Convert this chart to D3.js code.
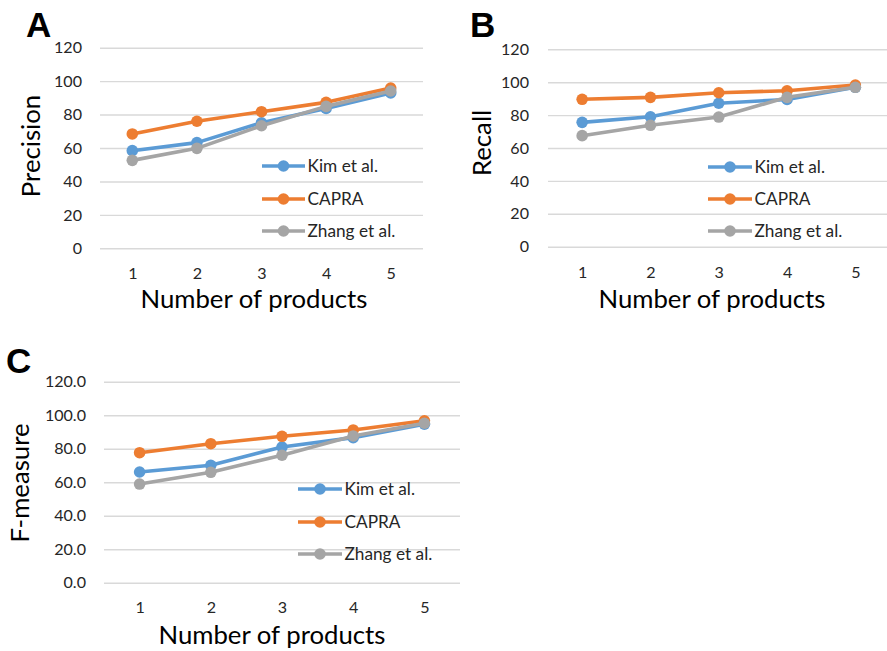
<!DOCTYPE html>
<html><head><meta charset="utf-8">
<script src="https://cdn.jsdelivr.net/npm/d3@7/dist/d3.min.js"></script>
<style>
body{margin:0;background:#fff;}
text{font-family:Lato,"Open Sans",sans-serif;}
</style></head>
<body><svg id="c" width="887" height="651"></svg>
<script>
const categories = [1, 2, 3, 4, 5];
const seriesNames = ["Kim et al.", "CAPRA", "Zhang et al."];
const seriesColors = ["#5B9BD5", "#ED7D31", "#A5A5A5"];
const yTicks = [0, 20, 40, 60, 80, 100, 120];

const precisionKim   = [58.4, 63.2, 75.1, 83.7, 92.9];
const precisionCapra = [68.4, 76.0, 81.7, 87.3, 95.9];
const precisionZhang = [52.6, 59.8, 73.3, 84.9, 94.1];

const recallKim   = [75.6, 79.0, 87.2, 89.5, 96.9];
const recallCapra = [89.6, 90.8, 93.6, 94.8, 98.3];
const recallZhang = [67.5, 73.8, 78.8, 90.8, 96.9];

const fKim   = [66.1, 70.1, 81.0, 86.6, 94.6];
const fCapra = [77.6, 83.0, 87.4, 91.2, 96.7];
const fZhang = [58.9, 65.9, 76.1, 87.6, 95.2];

const svg = d3.select("#c");

// pick font sizes so text widths match the reference
function fit(str, target) {
  const t = svg.append("text").attr("font-size", 20).text(str);
  const w = t.node().getComputedTextLength();
  t.remove();
  return 20 * target / w;
}
const tickFS = fit("120", 28);
const legFS = fit("Kim et al.", 70.5);
const titleFS = fit("Number of products", 227);

function panel(cfg) {
  const g = svg.append("g");
  const x = d3.scalePoint().domain(categories).range([cfg.x0, cfg.x1]).padding(0.5);
  const y = d3.scaleLinear().domain([0, 120]).range([cfg.yb, cfg.yt]);

  const ya = g.append("g").attr("transform", `translate(${cfg.x0},0)`)
    .call(d3.axisLeft(y).tickValues(yTicks).tickFormat(cfg.fmt)
      .tickSizeInner(-(cfg.x1 - cfg.x0)).tickSizeOuter(0).tickPadding(cfg.ypad));
  ya.select(".domain").remove();
  ya.selectAll(".tick line").attr("stroke", "#D9D9D9").attr("stroke-width", 1.4);
  ya.selectAll(".tick text").attr("fill", "#262626").attr("font-size", tickFS).attr("font-family", "Lato");

  const xa = g.append("g").attr("transform", `translate(0,${cfg.xtick})`)
    .call(d3.axisBottom(x).tickSize(0).tickPadding(0));
  xa.select(".domain").remove();
  xa.selectAll(".tick text").attr("fill", "#262626").attr("font-size", tickFS)
    .attr("font-family", "Lato").attr("dy", 0).attr("y", 0);

  g.append("text").attr("x", cfg.xtx).attr("y", cfg.xty).attr("text-anchor", "middle")
    .attr("font-size", titleFS).attr("fill", "#000").text("Number of products");
  g.append("text").attr("transform", `translate(${cfg.ytx},${cfg.yty}) rotate(-90)`)
    .attr("text-anchor", "middle").attr("dy", "0.35em")
    .attr("font-size", titleFS).attr("fill", "#000").text(cfg.ytitle);
  g.append("text").attr("x", cfg.lx).attr("y", cfg.ly)
    .style("font-family", "'Liberation Sans',Arial,sans-serif")
    .attr("font-weight", "bold").attr("font-size", 35).attr("fill", "#000").text(cfg.letter);

  const line = d3.line().x((d, i) => x(categories[i])).y(d => y(d));
  cfg.series.forEach((s, k) => {
    g.append("path").datum(s).attr("d", line).attr("fill", "none")
      .attr("stroke", seriesColors[k]).attr("stroke-width", 3.6).attr("stroke-linejoin", "round");
    g.selectAll(null).data(s).enter().append("circle")
      .attr("cx", (d, i) => x(categories[i])).attr("cy", d => y(d)).attr("r", 5.8)
      .attr("fill", seriesColors[k]);
  });
  seriesNames.forEach((n, k) => {
    const ry = cfg.legRows[k];
    g.append("line").attr("x1", cfg.legX1).attr("x2", cfg.legX2).attr("y1", ry).attr("y2", ry)
      .attr("stroke", seriesColors[k]).attr("stroke-width", 3.6);
    g.append("circle").attr("cx", (cfg.legX1 + cfg.legX2) / 2).attr("cy", ry).attr("r", 5.8)
      .attr("fill", seriesColors[k]);
    g.append("text").attr("x", cfg.legX2 + 2.5).attr("y", ry).attr("dy", "0.36em")
      .attr("font-size", legFS).attr("fill", "#262626").text(n);
  });
}

panel({letter: "A", ytitle: "Precision", fmt: d3.format("d"),
  x0: 100, x1: 423, yb: 248.3, yt: 47.7, ypad: 18, xtick: 279,
  xtx: 254, xty: 308, ytx: 31, yty: 146, lx: 26, ly: 37,
  legX1: 262, legX2: 305, legRows: [166, 199, 231],
  series: [precisionKim, precisionCapra, precisionZhang]});

panel({letter: "B", ytitle: "Recall", fmt: d3.format("d"),
  x0: 548, x1: 889.5, yb: 246.7, yt: 49.3, ypad: 19, xtick: 278,
  xtx: 712, xty: 308, ytx: 482, yty: 143, lx: 470, ly: 37,
  legX1: 708, legX2: 752, legRows: [167, 199, 231],
  series: [recallKim, recallCapra, recallZhang]});

panel({letter: "C", ytitle: "F-measure", fmt: d3.format(".1f"),
  x0: 104, x1: 460, yb: 582.7, yt: 381.7, ypad: 18, xtick: 613,
  xtx: 272, xty: 644, ytx: 20, yty: 483, lx: 6, ly: 373,
  legX1: 298, legX2: 342, legRows: [489, 522, 554],
  series: [fKim, fCapra, fZhang]});
</script></body></html>
